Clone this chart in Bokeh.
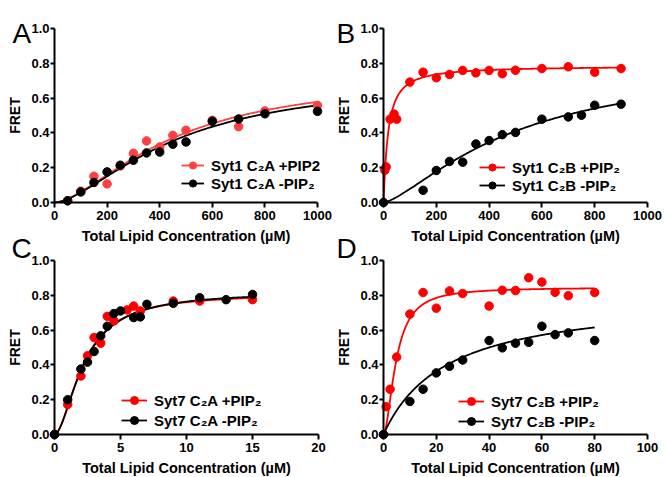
import numpy as np
from bokeh.plotting import figure
from bokeh.layouts import row, column
from bokeh.models import Legend, LegendItem, Label, FixedTicker, PrintfTickFormatter, Range1d
from bokeh.embed import file_html
from bokeh.resources import INLINE

# ---------------- data ----------------
# Panel A: Syt1 C2A
a_plus_x = [50, 100, 150, 200, 250, 300, 350, 400, 450, 500, 600, 700, 800, 1000]
a_plus_y = [0.01, 0.065, 0.151, 0.107, 0.21, 0.283, 0.354, 0.319, 0.386, 0.415, 0.472, 0.436, 0.526, 0.558]
a_minus_x = [50, 100, 150, 200, 250, 300, 350, 400, 450, 500, 600, 700, 800, 1000]
a_minus_y = [0.01, 0.061, 0.115, 0.176, 0.214, 0.243, 0.285, 0.29, 0.335, 0.348, 0.467, 0.48, 0.51, 0.524]
a_fit_plus = (0.74, 450, 1.6)     # Bmax, K, Hill n
a_fit_minus = (0.72, 460, 1.6)

# Panel B: Syt1 C2B
b_plus_x = [5, 10, 25, 40, 50, 100, 150, 200, 250, 300, 350, 400, 450, 500, 600, 700, 800, 900]
b_plus_y = [0.185, 0.205, 0.479, 0.508, 0.479, 0.692, 0.749, 0.717, 0.736, 0.759, 0.745, 0.759, 0.74, 0.76, 0.77, 0.78, 0.749, 0.77]
b_minus_x = [0, 150, 200, 250, 300, 350, 400, 450, 500, 600, 700, 750, 800, 900]
b_minus_y = [0, 0.07, 0.184, 0.236, 0.232, 0.336, 0.356, 0.39, 0.403, 0.479, 0.492, 0.502, 0.559, 0.565]
b_fit_plus = (0.785, 17, 1.1)
b_fit_minus = (0.82, 500, 1.4)

# Panel C: Syt7 C2A
c_plus_x = [0, 1, 2, 2.5, 3, 3.5, 4, 4.5, 5.5, 6, 6.5, 9, 11, 15]
c_plus_y = [0, 0.172, 0.336, 0.452, 0.557, 0.525, 0.679, 0.653, 0.716, 0.738, 0.71, 0.767, 0.767, 0.775]
c_minus_x = [0, 1, 2, 2.5, 3, 3.5, 4, 4.5, 5, 6, 6.5, 7, 9, 11, 13, 15]
c_minus_y = [0, 0.2, 0.376, 0.416, 0.477, 0.567, 0.622, 0.695, 0.71, 0.672, 0.676, 0.748, 0.754, 0.786, 0.775, 0.805]
c_fit_plus = (0.81, 2.2, 1.8)
c_fit_minus = (0.82, 2.25, 1.75)

# Panel D: Syt7 C2B
d_plus_x = [0, 1, 2.5, 5, 10, 15, 20, 25, 30, 40, 45, 50, 55, 60, 65, 70, 80]
d_plus_y = [0, 0.16, 0.26, 0.445, 0.692, 0.816, 0.726, 0.825, 0.81, 0.738, 0.829, 0.827, 0.901, 0.876, 0.817, 0.798, 0.816]
d_minus_x = [0, 10, 15, 20, 25, 30, 40, 45, 50, 55, 60, 65, 70, 80]
d_minus_y = [0, 0.19, 0.26, 0.354, 0.392, 0.428, 0.54, 0.498, 0.525, 0.53, 0.622, 0.574, 0.584, 0.54]
d_fit_plus = (0.845, 4.8, 1.8)
d_fit_minus = (0.80, 24, 1.0)

y_ticks = [0.0, 0.2, 0.4, 0.6, 0.8, 1.0]
x_label = "Total Lipid Concentration (µM)"
y_label = "FRET"
panel_letters = ["A", "B", "C", "D"]

FONT = "Liberation Sans"
TOP_PAD = 40   # strip for the (empty) title, pushed above the visible area


def hill(xs, params):
    bmax, k, n = params
    xs = np.asarray(xs, dtype=float)
    return bmax * xs ** n / (k ** n + xs ** n)


def make_panel(letter, letter_px, xmax, xticks, plus, minus, fit_plus, fit_minus, labels,
               red, frame_w, frame_h, data_box, legend_loc, legend_glyph_w,
               legend_row_h, margin_top):
    # data_box: pixel box (left, right, top, bottom) of the data area inside the frame
    left, right, top, bottom = data_box
    kx = (right - left) / xmax
    ky = (bottom - top) / 1.0
    xr = Range1d(-left / kx, xmax + (frame_w - right) / kx)
    yr = Range1d(-(frame_h - bottom) / ky, 1.0 + top / ky)

    p = figure(width=frame_w, height=frame_h + TOP_PAD, output_backend="svg",
               toolbar_location=None, x_range=xr, y_range=yr,
               min_border_left=0, min_border_right=0, min_border_top=TOP_PAD,
               min_border_bottom=0, margin=(margin_top, 0, 0, 0))
    p.border_fill_color = None
    p.background_fill_color = None
    p.outline_line_color = None
    p.xgrid.visible = False
    p.ygrid.visible = False

    for ax in (p.xaxis[0], p.yaxis[0]):
        ax.fixed_location = 0
        ax.axis_line_width = 2
        ax.axis_line_color = "black"
        ax.major_tick_line_width = 2
        ax.major_tick_line_color = "black"
        ax.major_tick_in = 0
        ax.minor_tick_line_color = None
        ax.major_label_text_font = FONT
        ax.major_label_text_font_style = "bold"
        ax.major_label_text_font_size = "13px"
        ax.major_label_text_color = "black"
        ax.axis_label_text_font = FONT
        ax.axis_label_text_font_style = "bold"
        ax.axis_label_text_color = "black"
    p.xaxis.bounds = (0, xmax)
    p.yaxis.bounds = (0, 1.0)
    p.xaxis.major_tick_out = 5
    p.yaxis.major_tick_out = 4
    p.xaxis.major_label_standoff = 3
    p.yaxis.major_label_standoff = 1
    p.xaxis.ticker = FixedTicker(ticks=xticks)
    p.yaxis.ticker = FixedTicker(ticks=y_ticks)
    p.yaxis.formatter = PrintfTickFormatter(format="%.1f")
    p.xaxis.axis_label = x_label
    p.yaxis.axis_label = y_label
    p.xaxis.axis_label_text_font_size = "14.5px"
    p.yaxis.axis_label_text_font_size = "14px"
    p.xaxis.axis_label_standoff = 5
    p.yaxis.axis_label_standoff = 5

    xs_p = np.linspace(0, max(plus[0]), 300)
    xs_m = np.linspace(0, max(minus[0]), 300)
    lp = p.line(xs_p, hill(xs_p, fit_plus), line_color=red, line_width=1.8)
    lm = p.line(xs_m, hill(xs_m, fit_minus), line_color="black", line_width=1.8)
    sp = p.scatter(plus[0], plus[1], size=8.5, fill_color=red, line_color=red)
    sm = p.scatter(minus[0], minus[1], size=8.5, fill_color="black", line_color="black")

    legend = Legend(items=[LegendItem(label=labels[0], renderers=[lp, sp]),
                           LegendItem(label=labels[1], renderers=[lm, sm])],
                    location=legend_loc, orientation="vertical",
                    label_text_font=FONT, label_text_font_style="bold",
                    label_text_font_size="15px", label_text_color="black",
                    glyph_width=legend_glyph_w, glyph_height=legend_row_h,
                    label_height=legend_row_h, label_standoff=7, spacing=0,
                    padding=0, margin=0, border_line_color=None,
                    background_fill_alpha=0, inactive_fill_alpha=0)
    p.add_layout(legend)

    lx, lbase = letter_px
    p.add_layout(Label(x=(lx - left) / kx, y=(bottom - lbase) / ky,
                       text=letter, text_font=FONT, text_font_size="28px",
                       text_color="black", text_baseline="alphabetic", text_align="left"))
    return p


# row 1 frames: page y 0..245 ; row 2 frames: page y 222..477
pA = make_panel(panel_letters[0], (12, 33), 1000, [0, 200, 400, 600, 800, 1000],
                (a_plus_x, a_plus_y), (a_minus_x, a_minus_y), a_fit_plus, a_fit_minus,
                ["Syt1 C\u2082A +PIP2", "Syt1 C\u2082A -PIP\u2082"], "#FF4040",
                332, 245, (54, 317, 28, 202), (181, 53), 23, 18, -TOP_PAD)
pB = make_panel(panel_letters[1], (4, 33), 1000, [0, 200, 400, 600, 800, 1000],
                (b_plus_x, b_plus_y), (b_minus_x, b_minus_y), b_fit_plus, b_fit_minus,
                ["Syt1 C\u2082B +PIP\u2082", "Syt1 C\u2082B -PIP\u2082"], "#FF0000",
                333, 245, (51, 315, 28, 202), (147, 51), 26, 18, -TOP_PAD)
pC = make_panel(panel_letters[2], (11, 26), 20, [0, 5, 10, 15, 20],
                (c_plus_x, c_plus_y), (c_minus_x, c_minus_y), c_fit_plus, c_fit_minus,
                ["Syt7 C\u2082A +PIP\u2082", "Syt7 C\u2082A -PIP\u2082"], "#FF0000",
                332, 255, (54, 318, 38, 212), (121, 47), 26, 20, 0)
pD = make_panel(panel_letters[3], (4, 26), 100, [0, 20, 40, 60, 80, 100],
                (d_plus_x, d_plus_y), (d_minus_x, d_minus_y), d_fit_plus, d_fit_minus,
                ["Syt7 C\u2082B +PIP\u2082", "Syt7 C\u2082B -PIP\u2082"], "#FF0000",
                333, 255, (51, 315, 38, 212), (126, 46), 26, 20, 0)

top = row(pA, pB)
bottom = row(pC, pD, margin=(222 - 245 - TOP_PAD, 0, 0, 0))
layout = column(top, bottom)

open("out.html", "w").write(file_html(layout, INLINE))
